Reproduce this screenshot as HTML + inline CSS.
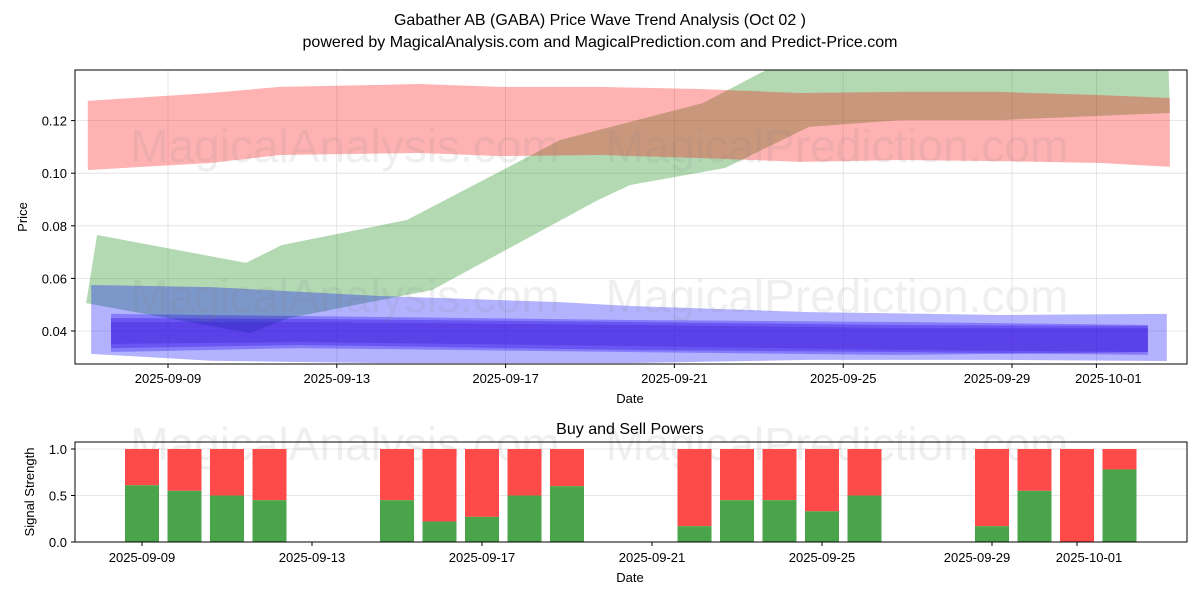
<!DOCTYPE html>
<html><head><meta charset="utf-8">
<style>
body{margin:0;background:#fff;}
svg{display:block;font-family:"Liberation Sans","DejaVu Sans",sans-serif;}
</style></head>
<body>
<svg id="chart" width="1200" height="600" viewBox="0 0 1200 600" xmlns="http://www.w3.org/2000/svg">
<rect width="1200" height="600" fill="#fff"/>
<text x="600" y="25" text-anchor="middle" font-size="16">Gabather AB (GABA) Price Wave Trend Analysis (Oct 02 )</text>
<text x="600" y="47" text-anchor="middle" font-size="16">powered by MagicalAnalysis.com and MagicalPrediction.com and Predict-Price.com</text>
<defs>
<clipPath id="clipTop"><rect x="75" y="70" width="1112" height="294"/></clipPath>
<clipPath id="clipBot"><rect x="75" y="442" width="1112" height="100"/></clipPath>
</defs>
<g id="topChart"></g>
<g id="botChart"></g>
</svg>
<script>
// ---- top chart data (days offset from 2025-09-09) ----
const redDays = [-1.9,1.0,2.65,5.97,7.87,10.24,12.6,14.98,17.35,19.7,22.1,23.74];
const redUpper = [0.1275,0.1305,0.1328,0.1339,0.1328,0.1328,0.132,0.1305,0.1309,0.1309,0.1297,0.1286];
const redLower = [0.1012,0.1039,0.1069,0.1077,0.1065,0.1069,0.1058,0.1043,0.1050,0.1046,0.1039,0.1024];
const greenUpDays = [-1.68,1.85,2.70,5.66,9.29,12.68,14.17,17.35,22.09,23.7];
const greenUpper = [0.0765,0.0659,0.0727,0.0822,0.1126,0.1267,0.1392,0.1468,0.1468,0.1449];
const greenLoDays = [-1.94,1.94,2.86,6.26,10.19,10.95,13.2,15.19,17.35,19.72,23.74];
const greenLower = [0.0506,0.0392,0.0449,0.0556,0.0898,0.0955,0.102,0.1176,0.1202,0.1202,0.1229];
const blueWideDays = [-1.82,1.02,5.02,9.29,10.95,15.19,19.72,23.67];
const blueWideUpper = [0.0575,0.0567,0.0533,0.051,0.0495,0.0472,0.0461,0.0465];
const blueWideLower = [0.0313,0.0287,0.0278,0.0278,0.0278,0.0290,0.0290,0.0286];
const blueInDays = [-1.35,3.13,10.95,17.35,23.22];
const blueAUpper = [0.0465,0.0457,0.0442,0.0434,0.0423];
const blueALower = [0.032,0.0335,0.032,0.0309,0.032];
const blueBUpper = [0.0449,0.0446,0.0434,0.0423,0.0419];
const blueBLower = [0.0335,0.0347,0.0328,0.032,0.0309];
const blueCUpper = [0.0434,0.0434,0.0423,0.0411,0.0411];
const blueCLower = [0.0351,0.0358,0.0343,0.0328,0.032];
const topYTicks = [0.04,0.06,0.08,0.10,0.12];
const topYTickLabels = ["0.04","0.06","0.08","0.10","0.12"];
const xTickDays = [0,4,8,12,16,20,22];
const xTickLabels = ["2025-09-09","2025-09-13","2025-09-17","2025-09-21","2025-09-25","2025-09-29","2025-10-01"];
// ---- bottom chart data ----
const barDays = [0,1,2,3,6,7,8,9,10,13,14,15,16,17,20,21,22,23];
const buyPower = [0.61,0.55,0.5,0.45,0.45,0.22,0.27,0.5,0.6,0.17,0.45,0.45,0.33,0.5,0.17,0.55,0.0,0.78];
const botYTicks = [0,0.5,1.0];
const botYTickLabels = ["0.0","0.5","1.0"];

const NS="http://www.w3.org/2000/svg";
function mk(tag,attrs,parent,txt){const e=document.createElementNS(NS,tag);for(const k in attrs)e.setAttribute(k,attrs[k]);if(txt!==undefined)e.textContent=txt;parent.appendChild(e);return e;}
const xTop=d=>168+42.2*d;
const yTop=v=>331-(v-0.04)*2630;
const xBot=d=>142+42.5*d;
const yBot=v=>542-v*93;

const topG=document.getElementById('topChart');
topYTicks.forEach(v=>{const l=mk('line',{x1:75,x2:1187,y1:yTop(v),y2:yTop(v),stroke:'#e0e0e0','stroke-width':0.8},topG);

});
xTickDays.forEach(d=>{const l=mk('line',{x1:xTop(d),x2:xTop(d),y1:70,y2:364,stroke:'#e0e0e0','stroke-width':0.8},topG);

});
const gTop=mk('g',{'clip-path':'url(#clipTop)'},topG);
function band(daysU,up,daysL,lo,fill,name){
  let pts=daysU.map((d,i)=>xTop(d)+','+yTop(up[i]));
  for(let i=lo.length-1;i>=0;i--)pts.push(xTop(daysL[i])+','+yTop(lo[i]));
  const p=mk('polygon',{points:pts.join(' '),fill:fill,'fill-opacity':0.3},gTop);
  
  
}
band(greenUpDays,greenUpper,greenLoDays,greenLower,'#008000','green-band');
band(redDays,redUpper,redDays,redLower,'#ff0000','red-band');
band(blueWideDays,blueWideUpper,blueWideDays,blueWideLower,'#0000ff','blue-wide-band');
band(blueInDays,blueAUpper,blueInDays,blueALower,'#1a00f0','blue-band-a');
band(blueInDays,blueBUpper,blueInDays,blueBLower,'#2a00e0','blue-band-b');
band(blueInDays,blueCUpper,blueInDays,blueCLower,'#3a10d0','blue-band-c');
const wmTop=[[345,162,'MagicalAnalysis.com'],[345,312,'MagicalAnalysis.com'],[837,162,'MagicalPrediction.com'],[837,312,'MagicalPrediction.com']];
wmTop.forEach(p=>{const t=mk('text',{x:p[0],y:p[1],'text-anchor':'middle','font-size':46,fill:'#808080','fill-opacity':0.13},topG,p[2]);

});
mk('rect',{x:75,y:70,width:1112,height:294,fill:'none',stroke:'#000','stroke-width':1},topG);
topYTicks.forEach((v,i)=>{mk('line',{x1:71,x2:75,y1:yTop(v),y2:yTop(v),stroke:'#000'},topG);
const t=mk('text',{x:67,y:yTop(v)+5,'text-anchor':'end','font-size':13},topG,topYTickLabels[i]);

});
xTickDays.forEach((d,i)=>{mk('line',{x1:xTop(d),x2:xTop(d),y1:364,y2:368,stroke:'#000'},topG);
const t=mk('text',{x:xTop(d)-(i===5?15:(i===6?-12:0)),y:383,'text-anchor':'middle','font-size':13},topG,xTickLabels[i]);

});
let t1=mk('text',{x:630,y:403,'text-anchor':'middle','font-size':13},topG,'Date');


let t2=mk('text',{x:27,y:217,'text-anchor':'middle','font-size':13,transform:'rotate(-90 27 217)'},topG,'Price');



const botG=document.getElementById('botChart');
botYTicks.forEach(v=>{const l=mk('line',{x1:75,x2:1187,y1:yBot(v),y2:yBot(v),stroke:'#e0e0e0','stroke-width':0.8},botG);

});
const wmBot=[[345,460,'MagicalAnalysis.com'],[837,460,'MagicalPrediction.com']];
wmBot.forEach(p=>{const t=mk('text',{x:p[0],y:p[1],'text-anchor':'middle','font-size':46,fill:'#808080','fill-opacity':0.13},botG,p[2]);

});
const gBot=mk('g',{'clip-path':'url(#clipBot)'},botG);
barDays.forEach((d,i)=>{
  const x=xBot(d)-17;
  const r=mk('rect',{x:x,y:yBot(1),width:34,height:yBot(buyPower[i])-yBot(1),fill:'#ff4a4a'},gBot);
  
  
  const g=mk('rect',{x:x,y:yBot(buyPower[i]),width:34,height:yBot(0)-yBot(buyPower[i]),fill:'#4aa54a'},gBot);
  
  
});
mk('rect',{x:75,y:442,width:1112,height:100,fill:'none',stroke:'#000','stroke-width':1},botG);
botYTicks.forEach((v,i)=>{mk('line',{x1:71,x2:75,y1:yBot(v),y2:yBot(v),stroke:'#000'},botG);
const t=mk('text',{x:67,y:yBot(v)+5,'text-anchor':'end','font-size':13},botG,botYTickLabels[i]);

});
xTickDays.forEach((d,i)=>{mk('line',{x1:xBot(d),x2:xBot(d),y1:542,y2:546,stroke:'#000'},botG);
const t=mk('text',{x:xBot(d)-(i===5?15:(i===6?-12:0)),y:562,'text-anchor':'middle','font-size':13},botG,xTickLabels[i]);

});
let t3=mk('text',{x:630,y:434,'text-anchor':'middle','font-size':16},botG,'Buy and Sell Powers');


let t4=mk('text',{x:630,y:582,'text-anchor':'middle','font-size':13},botG,'Date');


let t5=mk('text',{x:34,y:492,'text-anchor':'middle','font-size':13,transform:'rotate(-90 34 492)'},botG,'Signal Strength');


</script>
</body></html>
